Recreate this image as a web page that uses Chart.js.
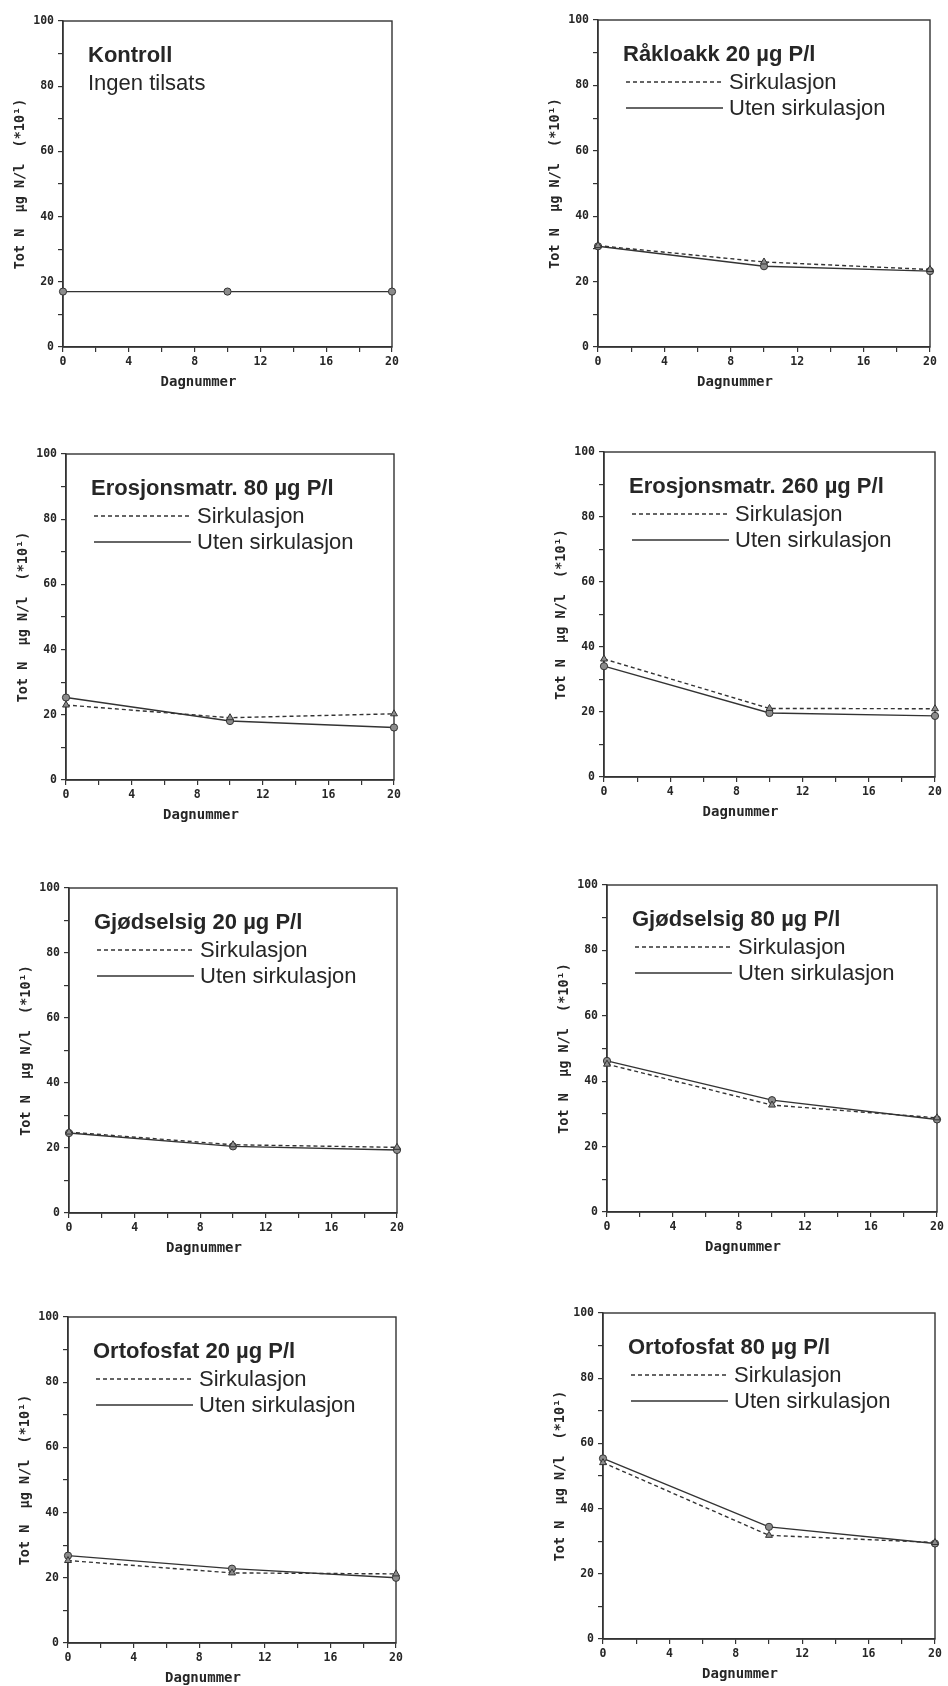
<!DOCTYPE html>
<html><head><meta charset="utf-8">
<script src="https://cdn.jsdelivr.net/npm/chart.js@4.4.1/dist/chart.umd.min.js"></script>
<style>
html,body{margin:0;padding:0;background:#fff;width:948px;height:1686px;overflow:hidden;position:relative}
canvas{position:absolute}
</style></head><body>
<script>
// ---- data ----
const days = [0, 10, 20];
const xTicks = [0, 4, 8, 12, 16, 20];
const yTicks = [0, 20, 40, 60, 80, 100];
const xTitle = "Dagnummer";
const yTitle = "Tot N  µg N/l  (*10¹)";
const seriesLabels = ["Sirkulasjon", "Uten sirkulasjon"];

const kontroll = [17, 17, 17];
const rakloakkSirk = [31, 26, 23.7];
const rakloakkUten = [30.8, 24.7, 23.2];
const eros80Sirk = [23, 19.1, 20.3];
const eros80Uten = [25.3, 18.1, 16.1];
const eros260Sirk = [36.3, 21.1, 21.0];
const eros260Uten = [34.1, 19.7, 18.8];
const gjod20Sirk = [24.9, 21.0, 20.2];
const gjod20Uten = [24.6, 20.5, 19.4];
const gjod80Sirk = [45.2, 32.7, 28.8];
const gjod80Uten = [46.2, 34.2, 28.3];
const orto20Sirk = [25.3, 21.5, 21.2];
const orto20Uten = [26.8, 22.8, 20.0];
const orto80Sirk = [54.1, 31.8, 29.6];
const orto80Uten = [55.4, 34.4, 29.3];

const panelTitles = [
  "Kontroll", "Råkloakk 20 µg P/l",
  "Erosjonsmatr. 80 µg P/l", "Erosjonsmatr. 260 µg P/l",
  "Gjødselsig 20 µg P/l", "Gjødselsig 80 µg P/l",
  "Ortofosfat 20 µg P/l", "Ortofosfat 80 µg P/l"
];
const kontrollSubtitle = "Ingen tilsats";

const panelSeries = [
  [kontroll],
  [rakloakkSirk, rakloakkUten],
  [eros80Sirk, eros80Uten],
  [eros260Sirk, eros260Uten],
  [gjod20Sirk, gjod20Uten],
  [gjod80Sirk, gjod80Uten],
  [orto20Sirk, orto20Uten],
  [orto80Sirk, orto80Uten]
];

// ---- layout (plot-area boxes: left, top, right, bottom) ----
const plotBoxes = [
  [63, 21, 392, 347], [598, 20, 930, 347],
  [66, 454, 394, 780], [604, 452, 935, 777],
  [69, 888, 397, 1213], [607, 885, 937, 1212],
  [68, 1317, 396, 1643], [603, 1313, 935, 1639]
];
const AXIS_W = 63, PAD_T = 25, PAD_R = 11, AXIS_H = 45;
const INK = '#262626';
const tickFont = {family: '"DejaVu Sans Mono", monospace', weight: 'bold', size: 11.5};

const framePlugin = {
  id: 'frame',
  beforeDatasetsDraw(chart) {
    const {ctx, chartArea: a} = chart;
    ctx.save();
    ctx.strokeStyle = '#333';
    ctx.lineWidth = 1.4;
    ctx.strokeRect(a.left, a.top, a.right - a.left, a.bottom - a.top);
    ctx.restore();
  }
};

const notesPlugin = {
  id: 'panelNotes',
  afterDraw(chart, args, opts) {
    const {ctx, chartArea: a} = chart;
    ctx.save();
    ctx.fillStyle = INK;
    ctx.textBaseline = 'alphabetic';
    ctx.textAlign = 'left';
    ctx.font = 'bold 22px "Liberation Sans", Arial, sans-serif';
    ctx.fillText(opts.title, a.left + 25, a.top + 41);
    ctx.font = '22px "Liberation Sans", Arial, sans-serif';
    if (opts.subtitle) {
      ctx.fillText(opts.subtitle, a.left + 25, a.top + 69);
    } else {
      chart.data.datasets.forEach((ds, i) => {
        const y = a.top + 62 + i * 26;
        ctx.strokeStyle = '#333';
        ctx.lineWidth = 1.4;
        ctx.setLineDash(ds.borderDash || []);
        ctx.beginPath();
        ctx.moveTo(a.left + 28, y);
        ctx.lineTo(a.left + 125, y);
        ctx.stroke();
        ctx.setLineDash([]);
        ctx.fillText(ds.label, a.left + 131, y + 7);
      });
    }
    ctx.font = 'bold 14px "DejaVu Sans Mono", monospace';
    ctx.textAlign = 'center';
    ctx.fillText(opts.xTitle, (a.left + a.right) / 2 - 29, a.bottom + 39);
    ctx.restore();
  }
};

function makeDataset(values, label, dashed) {
  return {
    label: label,
    data: days.map((d, i) => ({x: d, y: values[i]})),
    borderColor: '#333',
    borderWidth: 1.4,
    borderDash: dashed ? [4, 3] : [],
    pointStyle: dashed ? 'triangle' : 'circle',
    pointRadius: dashed ? 4 : 3.6,
    pointBackgroundColor: '#8c8c8c',
    pointBorderColor: '#333',
    pointBorderWidth: 1,
    fill: false,
    tension: 0,
    clip: false
  };
}

plotBoxes.forEach((box, i) => {
  const [L, T, R, B] = box;
  const cv = document.createElement('canvas');
  const w = R - L + AXIS_W + PAD_R;
  const h = B - T + PAD_T + AXIS_H;
  cv.width = w; cv.height = h;
  cv.style.width = w + 'px'; cv.style.height = h + 'px';
  cv.style.left = (L - AXIS_W) + 'px';
  cv.style.top = (T - PAD_T) + 'px';
  document.body.appendChild(cv);

  const series = panelSeries[i];
  const datasets = series.length === 1
    ? [makeDataset(series[0], panelTitles[i], false)]
    : [makeDataset(series[0], seriesLabels[0], true), makeDataset(series[1], seriesLabels[1], false)];

  new Chart(cv, {
    type: 'line',
    data: {datasets},
    plugins: [framePlugin, notesPlugin],
    options: {
      responsive: false,
      animation: false,
      devicePixelRatio: 1,
      layout: {padding: {left: 0, top: PAD_T, right: PAD_R, bottom: 0}},
      plugins: {
        legend: {display: false},
        tooltip: {enabled: false},
        panelNotes: {
          title: panelTitles[i],
          subtitle: series.length === 1 ? kontrollSubtitle : null,
          xTitle: xTitle
        }
      },
      scales: {
        x: {
          type: 'linear', min: 0, max: 20,
          afterFit(s) { s.height = AXIS_H; s.paddingLeft = 0; s.paddingRight = 0; },
          ticks: {
            stepSize: 2, autoSkip: false, maxRotation: 0, padding: 3,
            font: tickFont, color: INK,
            callback: v => xTicks.includes(v) ? String(v) : ''
          },
          grid: {display: true, drawOnChartArea: false, drawTicks: true, tickLength: 5, color: '#333', lineWidth: 1.2},
          border: {display: true, color: '#333', width: 1.4}
        },
        y: {
          min: 0, max: 100,
          afterFit(s) { s.width = AXIS_W; s.paddingTop = 0; s.paddingBottom = 0; },
          ticks: {
            stepSize: 10, autoSkip: false, padding: 4,
            font: tickFont, color: INK,
            callback: v => yTicks.includes(v) ? String(v) : ''
          },
          grid: {display: true, drawOnChartArea: false, drawTicks: true, tickLength: 5, color: '#333', lineWidth: 1.2},
          border: {display: true, color: '#333', width: 1.4},
          title: {
            display: true, text: yTitle, color: INK,
            font: {family: '"DejaVu Sans Mono", monospace', weight: 'bold', size: 13.5},
            padding: {top: 12, bottom: 0}
          }
        }
      }
    }
  });
});
</script>
</body></html>
